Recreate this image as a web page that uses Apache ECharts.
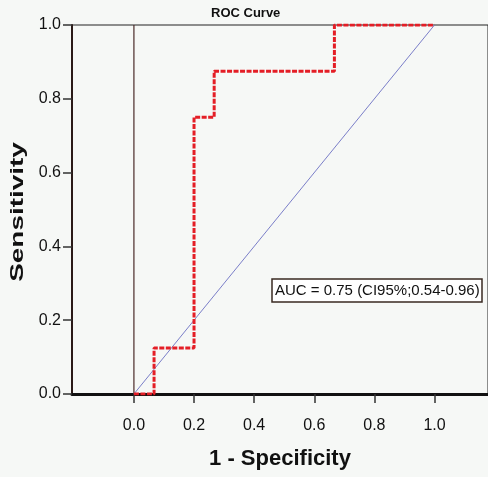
<!DOCTYPE html>
<html>
<head>
<meta charset="utf-8">
<script src="https://cdn.jsdelivr.net/npm/echarts@6/dist/echarts.min.js"></script>
<style>
  html, body { margin: 0; padding: 0; background: #f6f8f6; }
  #chart { width: 488px; height: 477px; }
</style>
</head>
<body>
<div id="chart"></div>
<script>
// ROC steps (1 - specificity, sensitivity)
const fpr = [0, 0.067, 0.067, 0.2, 0.2, 0.267, 0.267, 0.667, 0.667, 1.0]
const tpr = [0, 0, 0.125, 0.125, 0.75, 0.75, 0.875, 0.875, 1.0, 1.0]
const refLine = [[0, 0], [1, 1]]
const zeroLine = [[0, 0], [0, 1]]
const xTicks = [0, 0.2, 0.4, 0.6, 0.8, 1.0]
const aucText = 'AUC = 0.75 (CI95%;0.54-0.96)'

const font = 'Liberation Sans, Arial, sans-serif'
const chart = echarts.init(document.getElementById('chart'))

chart.setOption({
    animation: false,
    backgroundColor: '#f6f8f6',
    title: [{
        text: 'ROC Curve',
        left: 211,
        top: 7,
        padding: 0,
        textStyle: { fontFamily: font, fontSize: 13, fontWeight: 'bold', color: '#111' }
    }, {
        text: aucText,
        left: 272,
        top: 279,
        padding: [3, 3, 2, 3],
        borderColor: '#3a2a22',
        borderWidth: 1.5,
        backgroundColor: '#ffffff',
        textStyle: { fontFamily: font, fontSize: 15, lineHeight: 18, fontWeight: 'normal', color: '#111' }
    }],
    // y name is stretched along its length in the reference
    graphic: [{
        type: 'text',
        x: 18,
        y: 212,
        rotation: Math.PI / 2,
        scaleX: 1.55,
        style: {
            text: 'Sensitivity',
            font: 'bold 18px Liberation Sans, Arial, sans-serif',
            fill: '#111',
            align: 'center',
            verticalAlign: 'middle'
        }
    }],
    grid: {
        left: 72,
        right: 0,
        top: 25,
        bottom: 83,
        show: true,
        borderColor: '#222',
        borderWidth: 1,
        backgroundColor: 'transparent'
    },
    xAxis: {
        type: 'value',
        min: -0.206,
        max: 1.178,
        name: '1 - Specificity',
        nameLocation: 'middle',
        nameGap: 54,
        nameTextStyle: { fontFamily: font, fontSize: 22, fontWeight: 'bold', color: '#111' },
        axisLine: { show: true, onZero: false, lineStyle: { color: '#111', width: 3 } },
        axisTick: { show: true, customValues: xTicks, length: 9, lineStyle: { color: '#333', width: 1.5 } },
        axisLabel: {
            customValues: xTicks,
            formatter: v => v.toFixed(1),
            fontFamily: font, fontSize: 16, color: '#111', margin: 24
        },
        splitLine: { show: false }
    },
    yAxis: {
        type: 'value',
        min: 0,
        max: 1,
        interval: 0.2,
        axisLine: { show: true, onZero: false, lineStyle: { color: '#2a1a18', width: 2 } },
        axisTick: { show: true, length: 9, lineStyle: { color: '#333', width: 1.5 } },
        axisLabel: {
            formatter: v => v.toFixed(1),
            fontFamily: font, fontSize: 16, color: '#111', margin: 11
        },
        splitLine: { show: false }
    },
    series: [{
        type: 'line',
        data: zeroLine,
        symbol: 'none',
        lineStyle: { color: '#4a2a28', width: 1.2 },
        z: 1
    }, {
        type: 'line',
        data: refLine,
        symbol: 'none',
        lineStyle: { color: '#7a7ec8', width: 1 },
        z: 2
    }, {
        type: 'line',
        data: fpr.map((x, i) => [x, tpr[i]]),
        symbol: 'none',
        lineStyle: { color: '#e41e26', width: 3, type: [5, 1.5] },
        z: 3
    }]
})
</script>
</body>
</html>
